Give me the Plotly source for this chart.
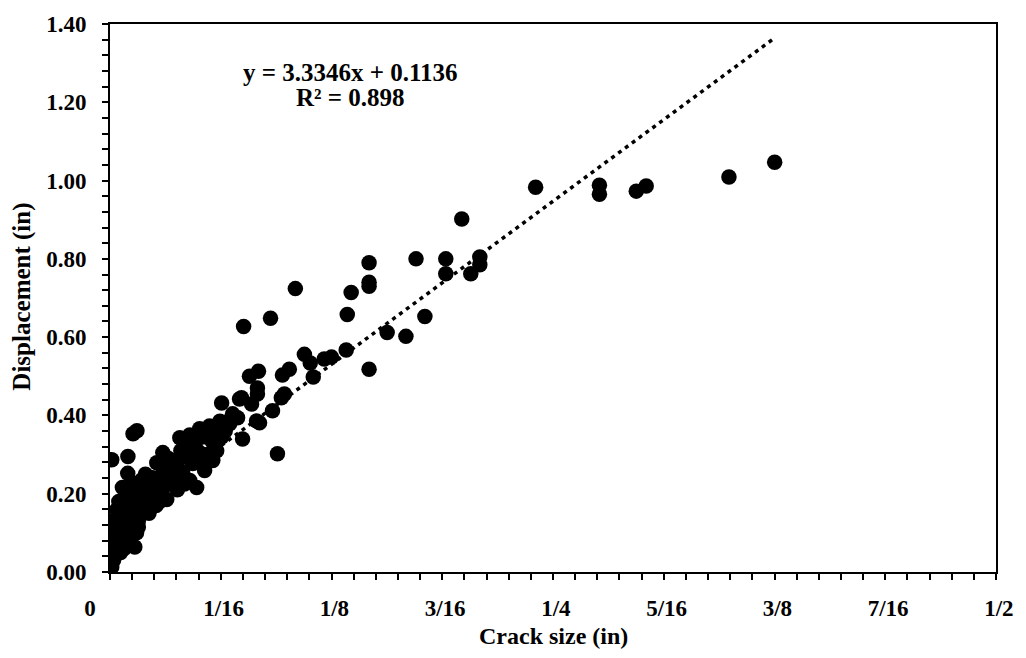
import plotly.graph_objects as go

# ---- data ----
crack_size = [
    # column next to the axis
    0.001, 0.002, 0.003, 0.001, 0.002, 0.003, 0.001, 0.002, 0.003,
    0.005, 0.007, 0.009, 0.011, 0.013, 0.015, 0.014, 0.006,
    0.006, 0.010, 0.014, 0.018, 0.022, 0.008, 0.016,
    0.005, 0.012, 0.020, 0.026, 0.032, 0.018,
    0.007, 0.015, 0.022, 0.030, 0.038, 0.042, 0.026,
    0.010, 0.024, 0.0377, 0.045, 0.0489, 0.033, 0.041,
    # extra fill of the dense cluster
    0.008, 0.010, 0.012, 0.009, 0.004, 0.011, 0.016, 0.006,
    0.004, 0.012, 0.020, 0.026, 0.028, 0.010, 0.016, 0.024,
    0.012, 0.018, 0.028, 0.035, 0.020, 0.030,
    0.038, 0.045, 0.052, 0.040, 0.048, 0.055, 0.032,
    0.045, 0.052, 0.065, 0.062, 0.068, 0.058,
    # lower-middle band
    0.001, 0.0101, 0.013, 0.0152, 0.0298, 0.0264, 0.0354, 0.0467, 0.0506,
    0.0602, 0.0534, 0.058, 0.042, 0.033, 0.0394, 0.0506, 0.0562, 0.0574,
    0.0602, 0.0675, 0.072, 0.0692, 0.0748, 0.045, 0.063,
    0.0945, 0.0827, 0.0917, 0.0984, 0.0832, 0.0731, 0.063, 0.0742,
    0.0787, 0.0838, 0.0832, 0.0844, 0.0799, 0.0967, 0.0973, 0.1012,
    0.1097, 0.1130, 0.1147, 0.1209, 0.125, 0.1333, 0.1462,
    0.1046, 0.0906, 0.0754,
    # upper band
    0.1361, 0.1339, 0.1564, 0.167, 0.1777, 0.1462, 0.1462, 0.1462,
    0.1727, 0.1895, 0.1895, 0.1985, 0.2036, 0.2087, 0.2087,
    0.2402, 0.2762, 0.2762, 0.297, 0.3026, 0.3493, 0.3751,
]
displacement = [
    0.013, 0.030, 0.045, 0.060, 0.075, 0.090, 0.105, 0.120, 0.135,
    0.080, 0.100, 0.120, 0.090, 0.110, 0.100, 0.064, 0.050,
    0.140, 0.150, 0.140, 0.160, 0.150, 0.165, 0.130,
    0.180, 0.190, 0.180, 0.190, 0.185, 0.200,
    0.216, 0.210, 0.220, 0.215, 0.210, 0.225, 0.230,
    0.252, 0.241, 0.226, 0.234, 0.216, 0.245, 0.255,
    0.060, 0.075, 0.095, 0.105, 0.115, 0.125, 0.115, 0.095,
    0.160, 0.170, 0.165, 0.170, 0.180, 0.185, 0.190, 0.205,
    0.230, 0.235, 0.225, 0.235, 0.250, 0.255,
    0.280, 0.290, 0.280, 0.310, 0.320, 0.300, 0.270,
    0.350, 0.345, 0.360, 0.385, 0.390, 0.355,
    0.287, 0.295, 0.353, 0.361, 0.305, 0.279, 0.267, 0.277, 0.305,
    0.310, 0.259, 0.285, 0.295, 0.290, 0.343, 0.366, 0.373, 0.335,
    0.361, 0.379, 0.394, 0.404, 0.340, 0.330, 0.345,
    0.302, 0.386, 0.412, 0.455, 0.470, 0.442, 0.432, 0.445,
    0.500, 0.513, 0.455, 0.381, 0.429, 0.445, 0.503, 0.518,
    0.556, 0.534, 0.498, 0.544, 0.549, 0.567, 0.518,
    0.724, 0.648, 0.627,
    0.714, 0.658, 0.612, 0.602, 0.653, 0.790, 0.740, 0.730,
    0.800, 0.800, 0.762, 0.902, 0.762, 0.805, 0.785,
    0.983, 0.988, 0.965, 0.973, 0.986, 1.009, 1.047,
]

slope = 3.3346
intercept = 0.1136
r_squared = 0.898

x_tick_vals = [0, 1/16, 1/8, 3/16, 1/4, 5/16, 3/8, 7/16, 1/2]
x_tick_text = ["0", "1/16", "1/8", "3/16", "1/4", "5/16", "3/8", "7/16", "1/2"]
y_tick_vals = [0.0, 0.2, 0.4, 0.6, 0.8, 1.0, 1.2, 1.4]
y_tick_text = ["0.00", "0.20", "0.40", "0.60", "0.80", "1.00", "1.20", "1.40"]

FONT = "Liberation Serif, Times New Roman, serif"
NB = "\u00a0"

# Excel-style label offsets: "0" sits left of its tick, fractions slightly right
x_tick_text_disp = [t + NB * 7 if t == "0" else NB * 1 + t for t in x_tick_text]

# ---- trendline (linear fit shown on the chart) ----
x_lo, x_hi = min(crack_size), max(crack_size)
trend_x = [x_lo, x_hi]
trend_y = [slope * x_lo + intercept, slope * x_hi + intercept]

fig = go.Figure()
fig.add_trace(go.Scatter(
    x=crack_size, y=displacement, mode="markers",
    marker=dict(size=15.5, color="black", line=dict(width=0)),
    showlegend=False, hoverinfo="skip",
))
fig.add_trace(go.Scatter(
    x=trend_x, y=trend_y, mode="lines",
    line=dict(color="black", width=3.5, dash="4px,4.5px"),
    showlegend=False, hoverinfo="skip",
))

TICKFONT = dict(family=FONT, size=23, color="black", weight="bold")
axis_common = dict(
    showline=True, linecolor="black", linewidth=2, mirror=True,
    showgrid=False, zeroline=False,
    ticks="outside", ticklen=6, tickwidth=1.5, tickcolor="black",
    tickfont=TICKFONT,
)

fig.update_xaxes(
    range=[0, 0.5], tickmode="array", tickvals=x_tick_vals, ticktext=x_tick_text_disp,
    minor=dict(dtick=0.0125, tick0=0, ticks="outside", ticklen=6, tickwidth=1.5, tickcolor="black"),
    ticklabelstandoff=8,
    **axis_common,
)
fig.update_yaxes(
    range=[0, 1.4], tickmode="array", tickvals=y_tick_vals, ticktext=y_tick_text,
    minor=dict(dtick=0.04, tick0=0, ticks="outside", ticklen=6, tickwidth=1.5, tickcolor="black"),
    ticklabelstandoff=11,
    **axis_common,
)

EQFONT = dict(family=FONT, size=25, color="black", weight="bold")
fig.add_annotation(
    x=0.136, y=1.276, xref="x", yref="y", showarrow=False,
    text=f"y = {slope:.4f}x + {intercept:.4f}", font=EQFONT,
)
fig.add_annotation(
    x=0.136, y=1.212, xref="x", yref="y", showarrow=False,
    text=f"R² = {r_squared:.3f}", font=EQFONT,
)
fig.add_annotation(
    x=0.5, y=-0.116, xref="paper", yref="paper", showarrow=False,
    text="Crack size (in)", xanchor="center", yanchor="middle",
    font=dict(family=FONT, size=24, color="black", weight="bold"),
)
fig.add_annotation(
    x=-0.099, y=0.503, xref="paper", yref="paper", showarrow=False,
    text="Displacement (in)", textangle=-90, xanchor="center", yanchor="middle",
    font=dict(family=FONT, size=25, color="black", weight="bold"),
)

fig.update_layout(
    width=1026, height=658,
    margin=dict(l=110, r=27, t=21, b=86),
    paper_bgcolor="white", plot_bgcolor="white",
    showlegend=False,
)

fig.write_html("out.html")
